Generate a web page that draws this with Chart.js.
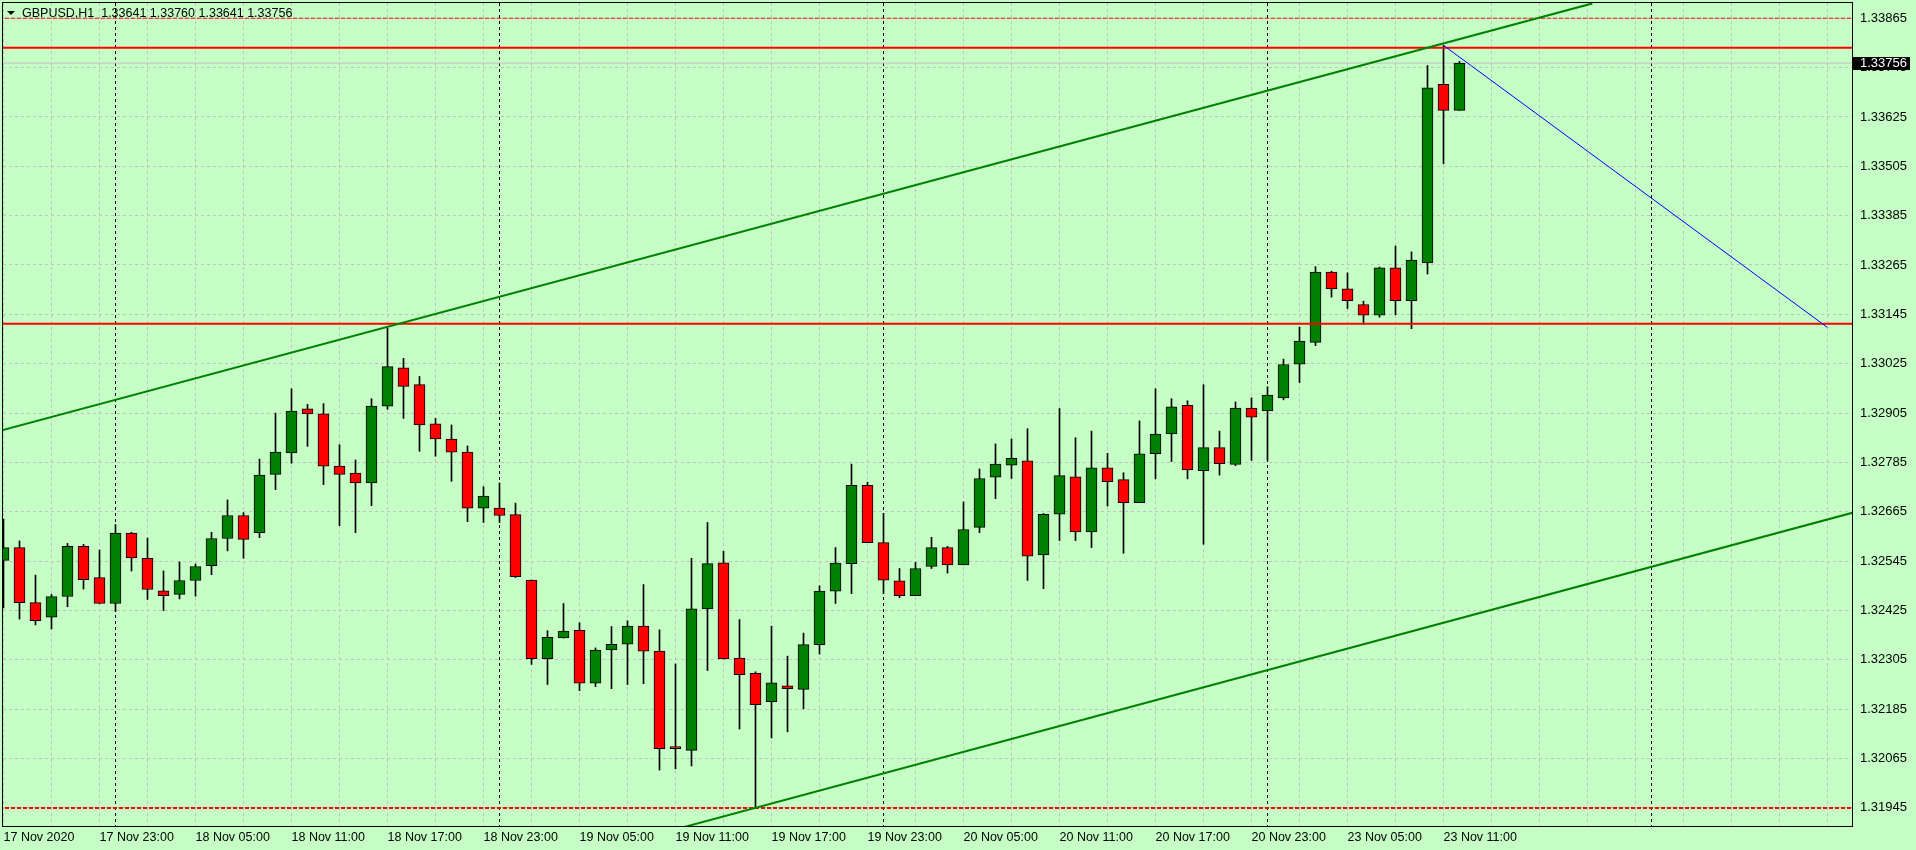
<!DOCTYPE html>
<html>
<head>
<meta charset="utf-8">
<title>GBPUSD,H1</title>
<script src="https://cdn.jsdelivr.net/npm/chart.js@4.4.0/dist/chart.umd.min.js"></script>
<style>
  html, body { margin: 0; padding: 0; background: #c6ffc6; overflow: hidden; }
  #wrap { width: 1916px; height: 850px; }
</style>
</head>
<body>
<div id="wrap"><canvas id="chart" width="1916" height="850"></canvas></div>
<script>
const symbol = "GBPUSD,H1";

// one label every 6 hourly bars, first at bar 0
const timeLabels = ["17 Nov 2020", "17 Nov 23:00", "18 Nov 05:00", "18 Nov 11:00", "18 Nov 17:00",
  "18 Nov 23:00", "19 Nov 05:00", "19 Nov 11:00", "19 Nov 17:00", "19 Nov 23:00", "20 Nov 05:00",
  "20 Nov 11:00", "20 Nov 17:00", "20 Nov 23:00", "23 Nov 05:00", "23 Nov 11:00"];
const labelEvery = 6;

const openPrices = [
  1.32547, 1.32578, 1.32444, 1.32409, 1.32459, 1.32581, 1.32505, 1.32442, 1.32613, 1.32552,
  1.32473, 1.32464, 1.32498, 1.32534, 1.32600, 1.32656, 1.32614, 1.32756, 1.32808, 1.32915,
  1.32903, 1.32776, 1.32759, 1.32735, 1.32922, 1.33015, 1.32974, 1.32879, 1.32842, 1.32810,
  1.32674, 1.32674, 1.32658, 1.32499, 1.32308, 1.32358, 1.32377, 1.32248, 1.32329, 1.32343,
  1.32387, 1.32326, 1.32090, 1.32085, 1.32429, 1.32541, 1.32309, 1.32272, 1.32203, 1.32242,
  1.32233, 1.32342, 1.32472, 1.32539, 1.32729, 1.32590, 1.32497, 1.32461, 1.32532, 1.32578,
  1.32536, 1.32627, 1.32749, 1.32778, 1.32789, 1.32560, 1.32659, 1.32750, 1.32616, 1.32772,
  1.32743, 1.32687, 1.32806, 1.32854, 1.32924, 1.32765, 1.32821, 1.32780, 1.32917, 1.32910,
  1.32942, 1.33024, 1.33077, 1.33248, 1.33207, 1.33169, 1.33143, 1.33258, 1.33178, 1.33270,
  1.33704, 1.33641];
const highPrices = [
  1.32647, 1.32594, 1.32511, 1.32464, 1.32588, 1.32586, 1.32572, 1.32634, 1.32615, 1.32601,
  1.32521, 1.32543, 1.32538, 1.32615, 1.32694, 1.32663, 1.32793, 1.32905, 1.32964, 1.32926,
  1.32928, 1.32828, 1.32791, 1.32940, 1.33112, 1.33038, 1.32994, 1.32892, 1.32876, 1.32825,
  1.32726, 1.32735, 1.32686, 1.32499, 1.32376, 1.32442, 1.32395, 1.32334, 1.32386, 1.32400,
  1.32488, 1.32378, 1.32295, 1.32552, 1.32639, 1.32569, 1.32403, 1.32276, 1.32387, 1.32314,
  1.32370, 1.32485, 1.32578, 1.32781, 1.32737, 1.32661, 1.32527, 1.32542, 1.32603, 1.32581,
  1.32689, 1.32769, 1.32830, 1.32842, 1.32867, 1.32661, 1.32916, 1.32845, 1.32861, 1.32807,
  1.32760, 1.32886, 1.32964, 1.32940, 1.32935, 1.32974, 1.32861, 1.32932, 1.32942, 1.32969,
  1.33036, 1.33114, 1.33261, 1.33250, 1.33246, 1.33177, 1.33260, 1.33311, 1.33297, 1.33750,
  1.33799, 1.33760];
const lowPrices = [
  1.32431, 1.32404, 1.32390, 1.32380, 1.32434, 1.32477, 1.32442, 1.32423, 1.32521, 1.32452,
  1.32425, 1.32453, 1.32460, 1.32512, 1.32570, 1.32552, 1.32602, 1.32719, 1.32783, 1.32824,
  1.32731, 1.32631, 1.32614, 1.32680, 1.32914, 1.32892, 1.32812, 1.32800, 1.32739, 1.32641,
  1.32639, 1.32639, 1.32505, 1.32294, 1.32245, 1.32358, 1.32230, 1.32240, 1.32235, 1.32245,
  1.32247, 1.32037, 1.32040, 1.32047, 1.32279, 1.32307, 1.32137, 1.31945, 1.32115, 1.32130,
  1.32186, 1.32319, 1.32442, 1.32466, 1.32590, 1.32466, 1.32456, 1.32461, 1.32527, 1.32516,
  1.32536, 1.32614, 1.32697, 1.32746, 1.32498, 1.32478, 1.32595, 1.32595, 1.32578, 1.32679,
  1.32564, 1.32687, 1.32745, 1.32787, 1.32745, 1.32586, 1.32754, 1.32777, 1.32790, 1.32790,
  1.32937, 1.32979, 1.33069, 1.33187, 1.33159, 1.33121, 1.33138, 1.33144, 1.33110, 1.33243,
  1.33511, 1.33641];
const closePrices = [
  1.32578, 1.32444, 1.32400, 1.32459, 1.32581, 1.32500, 1.32442, 1.32613, 1.32553, 1.32476,
  1.32461, 1.32498, 1.32532, 1.32600, 1.32656, 1.32598, 1.32754, 1.32810, 1.32910, 1.32903,
  1.32776, 1.32756, 1.32735, 1.32922, 1.33018, 1.32970, 1.32876, 1.32842, 1.32810, 1.32674,
  1.32703, 1.32656, 1.32507, 1.32308, 1.32360, 1.32375, 1.32248, 1.32329, 1.32343, 1.32387,
  1.32326, 1.32089, 1.32089, 1.32429, 1.32539, 1.32307, 1.32269, 1.32196, 1.32249, 1.32235,
  1.32342, 1.32472, 1.32540, 1.32729, 1.32590, 1.32499, 1.32461, 1.32527, 1.32578, 1.32536,
  1.32622, 1.32746, 1.32781, 1.32795, 1.32557, 1.32659, 1.32753, 1.32616, 1.32772, 1.32738,
  1.32687, 1.32806, 1.32854, 1.32920, 1.32767, 1.32821, 1.32782, 1.32917, 1.32895, 1.32949,
  1.33023, 1.33080, 1.33248, 1.33207, 1.33178, 1.33143, 1.33258, 1.33178, 1.33277, 1.33696,
  1.33641, 1.33756];

const priceTicks = [1.33865, 1.33745, 1.33625, 1.33505, 1.33385, 1.33265, 1.33145, 1.33025,
  1.32905, 1.32785, 1.32665, 1.32545, 1.32425, 1.32305, 1.32185, 1.32065, 1.31945];

// bars where a new day starts (period separators)
const daySeparators = [7, 31, 55, 79, 103];

// drawn objects: [bar index, price]
const upperChannel = [[-0.2, 1.32862], [99.3, 1.33901]];
const lowerChannel = [[38, 1.31851], [115.6, 1.32663]];
const blueTrend = [[90, 1.33799], [114, 1.33113]];
const redLevels = [1.33793, 1.33122];
const dashedLevels = [1.33865, 1.31945];
const bidPrice = 1.33756;

const BG = "#c6ffc6";
const GRID = "#c0c0c0";
const X_MIN = -0.03125, X_MAX = 115.53125;
const Y_MIN = 1.31901, Y_MAX = 1.33902;
const FONT = '"Liberation Sans", Arial, sans-serif';

Chart.defaults.font.family = FONT;
Chart.defaults.font.size = 12.5;
Chart.defaults.color = "#000";

const bars = openPrices.map((o, i) => i);

function toLine(points, color, width, order) {
  return {
    type: "line",
    data: points.map(p => ({ x: p[0], y: p[1] })),
    borderColor: color,
    borderWidth: width,
    pointRadius: 0,
    order: order
  };
}

function hLine(price, color, width, dash, order) {
  return {
    type: "line",
    data: [{ x: X_MIN - 1, y: price }, { x: X_MAX + 1, y: price }],
    borderColor: color,
    borderWidth: width,
    borderDash: dash,
    pointRadius: 0,
    order: order
  };
}

// no extra room for overhanging tick labels, the frame sits at the canvas edge
function noPadding(scale) {
  scale.paddingTop = 0;
  scale.paddingBottom = 0;
  scale.paddingLeft = 0;
  scale.paddingRight = 0;
}

const chartFrame = {
  id: "chartFrame",
  beforeDraw(chart) {
    const ctx = chart.ctx;
    ctx.save();
    ctx.fillStyle = BG;
    ctx.fillRect(0, 0, chart.width, chart.height);
    ctx.restore();
  },
  afterDraw(chart) {
    const { ctx, chartArea: a, scales } = chart;
    ctx.save();
    ctx.strokeStyle = "#000";
    ctx.lineWidth = 1;
    ctx.strokeRect(a.left - 0.5, a.top - 0.5, a.right - a.left + 1, a.bottom - a.top + 1);

    // current price box on the price scale
    const y = scales.y.getPixelForValue(bidPrice);
    ctx.fillStyle = "#000";
    ctx.fillRect(a.right + 1, Math.round(y) - 6, 57, 13);
    ctx.fillStyle = "#fff";
    ctx.font = "13px " + FONT;
    ctx.textBaseline = "middle";
    ctx.fillText(bidPrice.toFixed(5), a.right + 8, y);

    // header: symbol and last bar OHLC
    const n = closePrices.length - 1;
    const head = symbol + "  " + [openPrices[n], highPrices[n], lowPrices[n], closePrices[n]]
      .map(v => v.toFixed(5)).join(" ");
    ctx.fillStyle = "#000";
    ctx.beginPath();
    ctx.moveTo(7, 11);
    ctx.lineTo(15, 11);
    ctx.lineTo(11, 15);
    ctx.closePath();
    ctx.fill();
    ctx.font = "12.5px " + FONT;
    ctx.textBaseline = "alphabetic";
    ctx.fillText(head, 22, 17);
    ctx.restore();
  }
};

new Chart(document.getElementById("chart"), {
  type: "bar",
  data: {
    datasets: [
      toLine(upperChannel, "#008000", 2, 1),
      toLine(lowerChannel, "#008000", 2, 1),
      toLine(blueTrend, "#0000ff", 1, 1),
      ...redLevels.map(p => hLine(p, "#ff0000", 2, [], 1)),
      hLine(dashedLevels[0], "#ff0000", 1, [4, 2], 1),
      hLine(dashedLevels[1], "#ff0000", 2, [4, 2], 1),
      {
        type: "bar",
        data: bars.map(i => ({ x: i, y: [openPrices[i], closePrices[i]] })),
        backgroundColor: bars.map(i => closePrices[i] >= openPrices[i] ? "#008000" : "#ff0000"),
        borderColor: "#000",
        borderWidth: 1,
        borderSkipped: false,
        barThickness: 11,
        minBarLength: 2,
        grouped: false,
        order: 3
      },
      {
        type: "bar",
        data: bars.map(i => ({ x: i, y: [lowPrices[i], highPrices[i]] })),
        backgroundColor: "#000",
        borderWidth: 0,
        barThickness: 1,
        grouped: false,
        order: 4
      },
      hLine(bidPrice, "#c0c0c0", 1, [], 5)
    ]
  },
  options: {
    responsive: false,
    devicePixelRatio: 1,
    animation: false,
    events: [],
    layout: { padding: { left: 3, top: 3, right: 0, bottom: 0 } },
    plugins: { legend: { display: false }, tooltip: { enabled: false } },
    scales: {
      x: {
        type: "linear",
        min: X_MIN,
        max: X_MAX,
        offset: false,
        afterBuildTicks: scale => {
          const vals = new Set(daySeparators);
          for (let v = 0; v <= X_MAX; v += 3) vals.add(v);
          scale.ticks = [...vals].sort((a, b) => a - b).map(v => ({ value: v }));
        },
        afterFit: scale => { scale.height = 24; noPadding(scale); },
        grid: {
          offset: false,
          drawTicks: false,
          color: ctx => ctx.tick && daySeparators.includes(ctx.tick.value) ? "#000" : GRID
        },
        border: { display: false, dash: [3, 3] },
        ticks: {
          autoSkip: false,
          maxRotation: 0,
          minRotation: 0,
          align: "start",
          padding: 4,
          callback: v => (v % labelEvery === 0 && timeLabels[v / labelEvery]) || ""
        }
      },
      y: {
        type: "linear",
        position: "right",
        min: Y_MIN,
        max: Y_MAX,
        afterBuildTicks: scale => {
          scale.ticks = priceTicks.map(v => ({ value: v }));
        },
        afterFit: scale => { scale.width = 64; noPadding(scale); },
        grid: { drawTicks: false, color: GRID },
        border: { display: false, dash: [3, 3] },
        ticks: {
          crossAlign: "near",
          padding: 8,
          font: { size: 13 },
          callback: v => v.toFixed(5)
        }
      }
    }
  },
  plugins: [chartFrame]
});
</script>
</body>
</html>
